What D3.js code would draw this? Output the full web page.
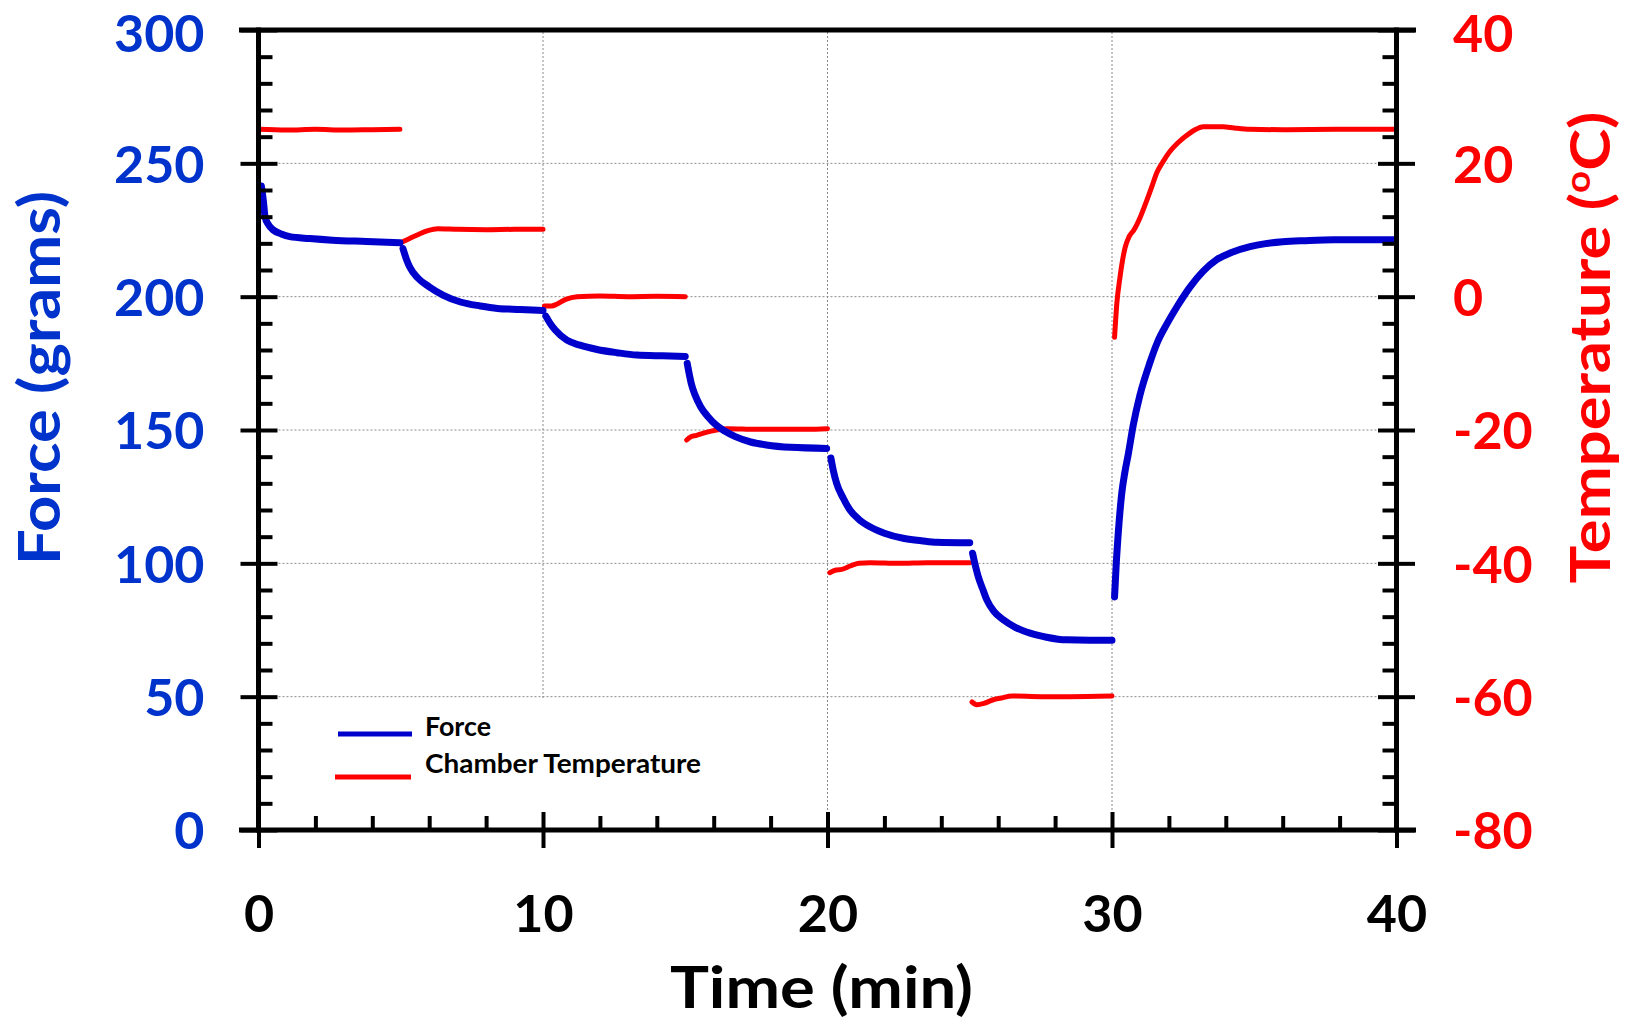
<!DOCTYPE html>
<html><head><meta charset="utf-8">
<script src="https://cdn.jsdelivr.net/npm/d3@7"></script>
<style>
html,body{margin:0;padding:0;background:#fff;}
svg{display:block;}
text{font-family:Lato,"Open Sans",sans-serif;font-weight:700;}
</style>
</head><body>
<svg id="chart" width="1631" height="1025"></svg>
<script>
// ---------- data ----------
const timeTicks = [0, 10, 20, 30, 40];
const forceTicks = [0, 50, 100, 150, 200, 250, 300];
const tempTicks = [-80, -60, -40, -20, 0, 20, 40];
const seriesNames = ["Force", "Chamber Temperature"];

// Force (grams) vs time (min), one array per temperature step
const force1 = [[0.1,241.5],[0.17,236],[0.23,230],[0.35,227],[0.52,225],[0.8,223.5],[1.1,222.5],[1.8,221.8],[2.6,221.2],[3.8,220.7],[4.97,220.2]];
const force2 = [[5.08,218],[5.2,214],[5.32,211],[5.6,207],[6.0,203.7],[6.5,200.5],[7.1,198],[7.8,196.5],[8.4,195.6],[9.2,195.2],[10.0,194.8]];
const force3 = [[10.1,192.7],[10.25,190],[10.43,187.5],[10.84,183.7],[11.3,181.8],[11.9,180.2],[12.6,179],[13.3,178.1],[14.2,177.8],[15.0,177.6]];
const force4 = [[15.07,175],[15.14,171],[15.21,167.5],[15.35,163],[15.54,158.7],[15.8,155],[16.08,151.9],[16.4,149.5],[16.76,147.5],[17.3,145.5],[17.85,144.4],[18.7,143.5],[19.97,143.1]];
const force5 = [[20.12,139.5],[20.2,135],[20.32,130],[20.55,124.5],[20.79,120],[21.1,116.5],[21.49,113.7],[22.0,111.3],[22.66,109.4],[23.3,108.5],[23.84,107.9],[25.0,107.7]];
const force6 = [[25.1,103.8],[25.2,99],[25.3,95],[25.45,90.5],[25.6,86.3],[25.85,82],[26.18,78.8],[26.6,76],[27.12,73.8],[27.7,72.3],[28.4,71.3],[29.2,71.2],[30.0,71.2]];
const force7 = [[30.09,87.4],[30.15,100],[30.22,111.3],[30.34,126],[30.45,134],[30.57,140.8],[30.75,152],[30.98,163],[31.34,175.5],[31.6,183],[31.92,189.6],[32.3,196.5],[32.74,203.6],[33.2,209.5],[33.68,213.9],[34.2,216.6],[34.85,218.8],[35.4,219.9],[36.0,220.6],[36.8,221],[37.8,221.3],[39.95,221.3]];

// Chamber temperature (°C) vs time (min)
const temp1 = [[0,25.1],[1,25],[2,25.1],[3,25],[4,25.05],[4.97,25.1]];
const temp2 = [[5.05,8.2],[5.3,8.7],[5.6,9.3],[5.95,9.9],[6.3,10.2],[7,10.1],[8,10.05],[9,10.1],[10,10.1]];
const temp3 = [[10.05,-1.4],[10.3,-1.4],[10.5,-1.1],[10.8,-0.4],[11.2,0],[12,0.1],[13,0],[14,0.05],[15,0]];
const temp4 = [[15.05,-21.5],[15.2,-21],[15.4,-20.8],[15.7,-20.4],[16.1,-20],[16.5,-19.8],[17.5,-19.9],[18.5,-19.9],[19.3,-19.9],[20,-19.8]];
const temp5 = [[20.08,-41.4],[20.3,-41],[20.5,-40.9],[20.8,-40.4],[21.1,-40],[21.5,-39.9],[22.5,-40],[23.5,-39.9],[25,-39.9]];
const temp6 = [[25.08,-60.8],[25.25,-61.2],[25.5,-61],[25.8,-60.5],[26.1,-60.2],[26.5,-59.9],[27.5,-60],[28.5,-60],[30,-59.9]];
const temp7 = [[30.09,-6.1],[30.17,-1],[30.28,2.9],[30.46,7.35],[30.6,9],[30.77,10],[31,12],[31.22,14.4],[31.4,16.5],[31.57,18.55],[31.8,20.3],[32.04,21.8],[32.3,23],[32.63,24.2],[32.9,25],[33.21,25.5],[33.9,25.5],[34.3,25.3],[34.85,25.1],[36,25.05],[38,25.1],[40,25.1]];

const forceSegments = [force1, force2, force3, force4, force5, force6, force7];
const tempSegments = [temp1, temp2, temp3, temp4, temp5, temp6, temp7];

// ---------- layout ----------
const BLUE_LINE = "#0000CC", BLUE_TEXT = "#0033CC", RED = "#FF0000";
const svg = d3.select("#chart");
svg.append("rect").attr("width",1631).attr("height",1025).attr("fill","#fff");

const x = d3.scaleLinear().domain([0, 40]).range([258.5, 1396.5]);
const yF = d3.scaleLinear().domain([0, 300]).range([830, 30]);
const yT = d3.scaleLinear().domain([-80, 40]).range([830, 30]);

// gridlines
const grid = svg.append("g").attr("stroke","#8a8a8a").attr("stroke-width",1).attr("stroke-dasharray","2,2");
forceTicks.filter(d => d > 0 && d < 300).forEach(d => {
  grid.append("line").attr("x1", x(0)).attr("x2", x(40)).attr("y1", yF(d)).attr("y2", yF(d));
});
timeTicks.filter(d => d > 0 && d < 40).forEach(d => {
  grid.append("line").attr("x1", x(d)).attr("x2", x(d)).attr("y1", yF(0)).attr("y2", yF(300));
});

// legend backing
svg.append("rect").attr("x", 300).attr("y", 699).attr("width", 430).attr("height", 129).attr("fill", "#fff");

// data lines
const lineF = d3.line().x(d => x(d[0])).y(d => yF(d[1])).curve(d3.curveMonotoneX);
const lineT = d3.line().x(d => x(d[0])).y(d => yT(d[1])).curve(d3.curveMonotoneX);
svg.append("g").selectAll("path").data(tempSegments).join("path")
  .attr("d", lineT).attr("fill","none").attr("stroke", RED).attr("stroke-width", 5)
  .attr("stroke-linecap","round").attr("stroke-linejoin","round");
svg.append("g").selectAll("path").data(forceSegments).join("path")
  .attr("d", lineF).attr("fill","none").attr("stroke", BLUE_LINE).attr("stroke-width", 7)
  .attr("stroke-linecap","round").attr("stroke-linejoin","round");

// ---------- axes ----------
function styleAxis(g, w) {
  g.select(".domain").remove();
  g.selectAll(".tick line").attr("stroke","#000").attr("stroke-width", w);
}
const minorF = d3.range(0, 301, 10).filter(d => d % 50 !== 0);
const minorT = d3.range(-80, 41, 4).filter(d => d % 20 !== 0);
const minorX = d3.range(0, 41, 2).filter(d => d % 10 !== 0);

// left axis
const gL = svg.append("g").attr("transform", `translate(${x(0)},0)`);
gL.append("g").call(d3.axisLeft(yF).tickValues(forceTicks).tickSize(18).tickPadding(36).tickFormat(d3.format("d")))
  .call(g => styleAxis(g, 4))
  .call(g => g.selectAll("text").attr("fill", BLUE_TEXT).attr("font-size", 52).attr("dy","0.36em")
    .attr("y", d => d === 300 ? 3 : 0)
    .style("font-family","Lato").style("font-weight","700"));
gL.append("g").call(d3.axisRight(yF).tickValues(forceTicks).tickSize(19).tickFormat("")).call(g => styleAxis(g, 4));
gL.append("g").call(d3.axisRight(yF).tickValues(minorF).tickSize(14).tickFormat("")).call(g => styleAxis(g, 4));

// right axis
const gR = svg.append("g").attr("transform", `translate(${x(40)},0)`);
gR.append("g").call(d3.axisRight(yT).tickValues(tempTicks).tickSize(18.5).tickPadding(38).tickFormat(d3.format("d")))
  .call(g => styleAxis(g, 4))
  .call(g => g.selectAll("text").attr("fill", RED).attr("font-size", 52).attr("dy","0.36em")
    .attr("y", d => d === 40 ? 3 : 0)
    .text(d => d < 0 ? "-" + Math.abs(d) : String(d))
    .style("font-family","Lato").style("font-weight","700"));
gR.append("g").call(d3.axisLeft(yT).tickValues(tempTicks).tickSize(18.5).tickFormat("")).call(g => styleAxis(g, 4));
gR.append("g").call(d3.axisLeft(yT).tickValues(minorT).tickSize(14).tickFormat("")).call(g => styleAxis(g, 4));

// bottom axis
const gB = svg.append("g").attr("transform", `translate(0,${yF(0)})`);
gB.append("g").call(d3.axisBottom(x).tickValues(timeTicks).tickSize(18).tickPadding(47).tickFormat(d3.format("d")))
  .call(g => styleAxis(g, 4))
  .call(g => g.selectAll("text").attr("fill", "#000").attr("font-size", 52)
    .style("font-family","Lato").style("font-weight","700"));
gB.append("g").call(d3.axisTop(x).tickValues(timeTicks).tickSize(18).tickFormat("")).call(g => styleAxis(g, 4));
gB.append("g").call(d3.axisTop(x).tickValues(minorX).tickSize(14).tickFormat("")).call(g => styleAxis(g, 4));

// frame lines
const frame = svg.append("g").attr("stroke","#000").attr("stroke-width",5).attr("stroke-linecap","square");
frame.append("line").attr("x1", x(0) - 17).attr("x2", x(40) + 17).attr("y1", yF(300)).attr("y2", yF(300));
frame.append("line").attr("x1", x(0) - 17).attr("x2", x(40) + 17).attr("y1", yF(0)).attr("y2", yF(0));
frame.append("line").attr("x1", x(0)).attr("x2", x(0)).attr("y1", yF(300)).attr("y2", yF(0));
frame.append("line").attr("x1", x(40)).attr("x2", x(40)).attr("y1", yF(300)).attr("y2", yF(0));

// ---------- titles ----------
svg.append("text").attr("transform", "translate(60,378) rotate(-90)")
  .attr("text-anchor","middle").attr("font-size", 58).attr("fill", BLUE_TEXT)
  .attr("textLength", 374).attr("lengthAdjust","spacingAndGlyphs")
  .text("Force (grams)");

const tTitle = svg.append("text").attr("transform", "translate(1610,347.5) rotate(-90)")
  .attr("text-anchor","middle").attr("font-size", 56).attr("fill", RED)
  .attr("textLength", 472).attr("lengthAdjust","spacingAndGlyphs");
tTitle.append("tspan").text("Temperature (");
tTitle.append("tspan").attr("font-size", 34).attr("dy", -20).text("o");
tTitle.append("tspan").attr("dy", 20).text("C)");

svg.append("text").attr("x", 821.5).attr("y", 1008).attr("text-anchor","middle")
  .attr("font-size", 58).attr("fill","#000")
  .attr("textLength", 303).attr("lengthAdjust","spacingAndGlyphs")
  .text("Time (min)");

// ---------- legend ----------
const legend = svg.append("g");
const legendItems = [
  {name: seriesNames[0], color: BLUE_LINE, x1: 338, x2: 412, ly: 734, ty: 736, len: 66},
  {name: seriesNames[1], color: RED, x1: 335, x2: 411, ly: 777, ty: 772.5, len: 276}
];
legendItems.forEach(it => {
  legend.append("line").attr("x1", it.x1).attr("x2", it.x2).attr("y1", it.ly).attr("y2", it.ly)
    .attr("stroke", it.color).attr("stroke-width", 5);
  legend.append("text").attr("x", 425).attr("y", it.ty).attr("font-size", 26).attr("fill","#000")
    .attr("textLength", it.len).attr("lengthAdjust","spacingAndGlyphs").text(it.name);
});
</script>
</body></html>
